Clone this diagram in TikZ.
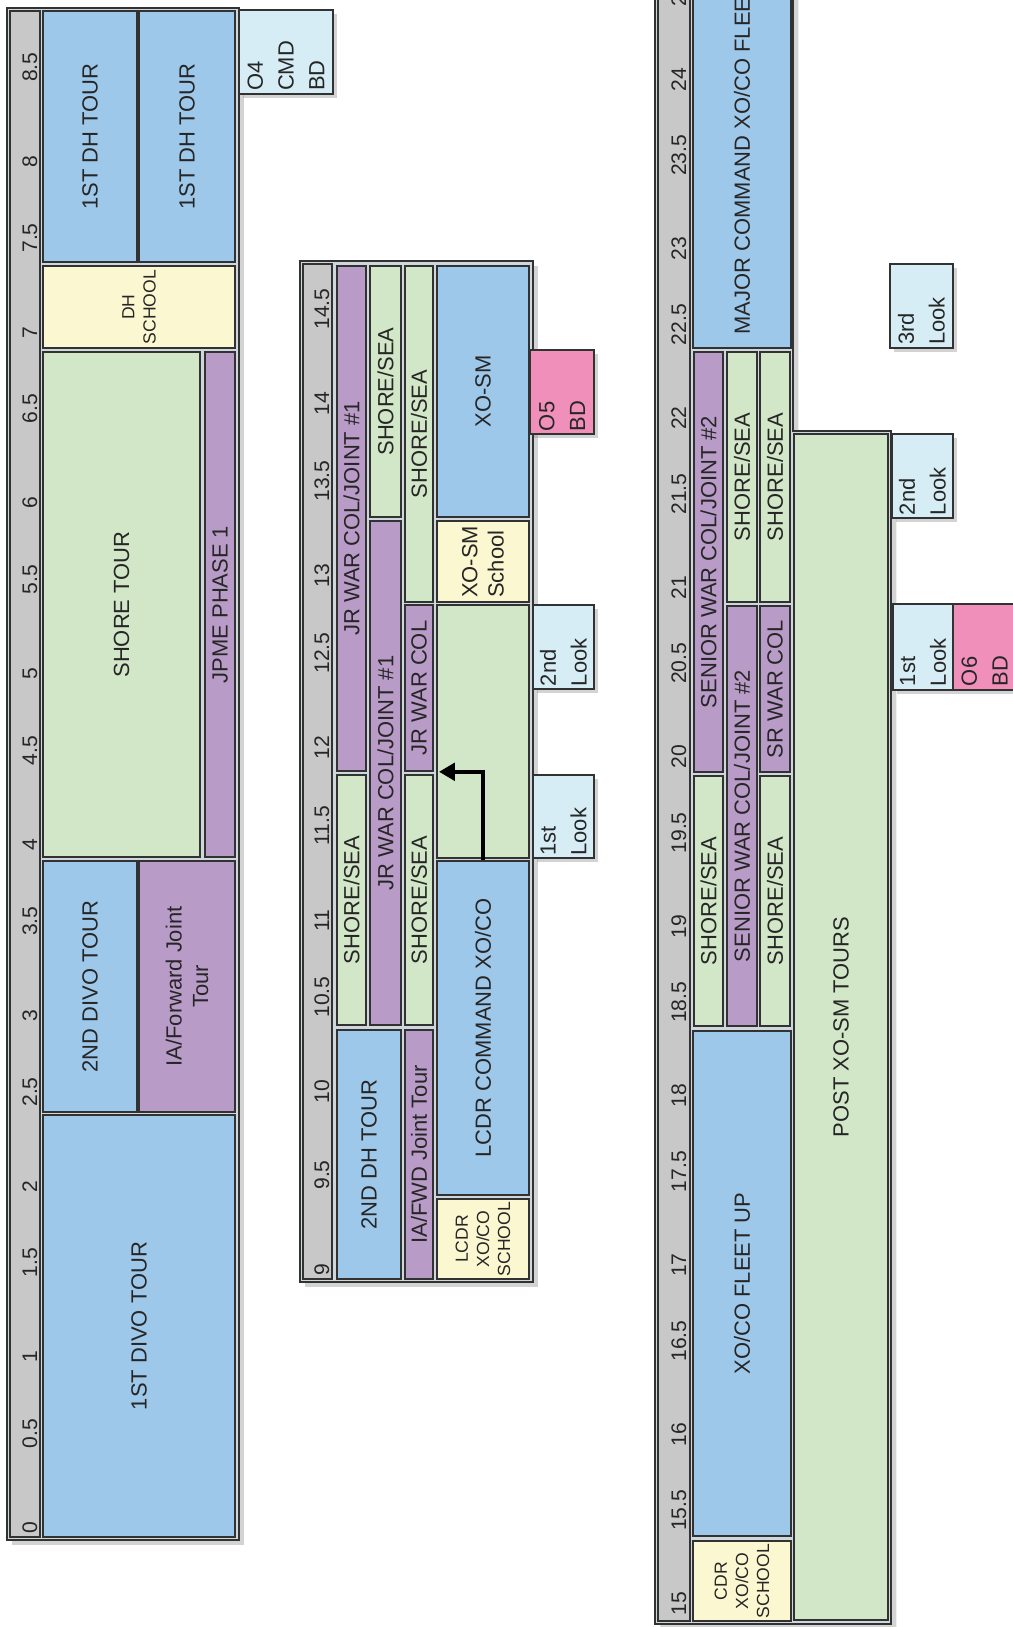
\documentclass[tikz,border=0pt]{standalone}
\usepackage{fontspec}
\setmainfont{Liberation Sans}
\definecolor{tourblue}{RGB}{158,200,234}
\definecolor{shoregreen}{RGB}{210,230,200}
\definecolor{jointpurple}{RGB}{185,155,200}
\definecolor{schoolyellow}{RGB}{251,247,208}
\definecolor{lookcyan}{RGB}{214,237,246}
\definecolor{boardpink}{RGB}{240,143,186}
\definecolor{rulergray}{RGB}{200,200,200}
\definecolor{framegray}{RGB}{205,215,220}
\definecolor{edgedark}{RGB}{50,50,50}
\usetikzlibrary{arrows.meta,shadows}

\begin{document}
\begin{tikzpicture}[x=0.02cm, y=-0.02cm,
    spanxy/.style args={#1/#2/#3/#4}{at={({(#1+#3)/2},{(#2+#4)/2})},
      minimum width={(#4-#2)*0.02cm}, minimum height={(#3-#1)*0.02cm}},
    slot/.style={draw=edgedark, line width=0.9pt, rotate=90, inner sep=1pt,
      align=center, text=black!85, font=\fontsize{12.5}{15}\selectfont},
    tour/.style={slot, fill=tourblue},
    shore/.style={slot, fill=shoregreen},
    joint/.style={slot, fill=jointpurple},
    school/.style={slot, fill=schoolyellow},
    smallschool/.style={school, font=\fontsize{10}{12}\selectfont},
    board/.style={slot, line width=1pt, align=left, text width=1.56cm,
      font=\fontsize{12.5}{17.5}\selectfont,
      drop shadow={shadow xshift=2.5pt, shadow yshift=-2.5pt, opacity=.35}},
    look/.style={board, fill=lookcyan},
    bd/.style={board, fill=boardpink},
    panel/.style={draw=edgedark, line width=1.2pt, fill=framegray,
      drop shadow={shadow xshift=3pt, shadow yshift=-3pt, opacity=.35}},
    ruler/.style={draw=edgedark, line width=0.9pt, fill=rulergray},
    ticklbl/.style={rotate=90, anchor=base west, inner sep=0pt,
      text=black!85, font=\fontsize{12}{14}\selectfont},
    flowarrow/.style={line width=2pt, -{Triangle[length=9pt,width=10pt]}, shorten >=3pt}
    ]
    \path[use as bounding box] (0,0) rectangle (1013,1627);
    \clip (0,0) rectangle (1013,1627);

    % years 0 to 8.5
    \draw[panel] (7,8) rectangle (239,1540);
    \draw[ruler] (10,11) rectangle (40,1537);
    \foreach \v [count=\i] in {0,0.5,1,1.5,2,2.5,3,3.5,4,4.5,5,5.5,6,6.5,7,7.5,8,8.5}
      \node[ticklbl] (ta\i) at (37,{1534-170.8*\v}) {\v};
    \node[tour, spanxy=43/11/137/262] (dhtoura) {1ST DH TOUR};
    \node[tour, spanxy=139/11/235/262] (dhtourb) {1ST DH TOUR};
    \node[smallschool, spanxy=43/266/235/348] (dhschool) {DH\\SCHOOL};
    \node[shore, spanxy=43/352/200/857] (shoretour) {SHORE TOUR};
    \node[joint, spanxy=205/352/235/857] (jpme) {JPME PHASE 1};
    \node[tour, spanxy=43/861/137/1112] (divotwo) {2ND DIVO TOUR};
    \node[joint, spanxy=139/861/235/1112] (iafwd) {IA/Forward Joint\\Tour};
    \node[tour, spanxy=43/1115/235/1537] (divoone) {1ST DIVO TOUR};
    \node[look, spanxy=239/10/333/94] (ofourbd) {O4\\CMD\\BD};

    % years 9 to 14.5
    \draw[panel] (300,261) rectangle (533,1282);
    \draw[ruler] (303,264) rectangle (332,1279);
    \foreach \v [count=\i] in {9,9.5,10,10.5,11,11.5,12,12.5,13,13.5,14,14.5}
      \node[ticklbl] (tb\i) at (329,{1276-172*(\v-9)}) {\v};
    \node[joint, spanxy=337/266/366/771] (jrwcjta) {JR WAR COL/JOINT \#1};
    \node[shore, spanxy=337/775/366/1025] (ssa) {SHORE/SEA};
    \node[shore, spanxy=370/266/401/517] (ssb) {SHORE/SEA};
    \node[joint, spanxy=370/521/401/1025] (jrwcjtb) {JR WAR COL/JOINT \#1};
    \node[shore, spanxy=405/266/433/602] (ssc) {SHORE/SEA};
    \node[joint, spanxy=405/605/433/771] (jrwc) {JR WAR COL};
    \node[shore, spanxy=405/775/433/1025] (ssd) {SHORE/SEA};
    \node[tour, spanxy=437/266/529/517] (xosm) {XO-SM};
    \node[school, spanxy=437/521/529/602, align=left, text width=1.45cm] (xosmschool) {XO-SM\\School};
    \node[shore, spanxy=437/605/529/858] (interim) {};
    \node[tour, spanxy=437/861/529/1195] (lcdrcmd) {LCDR COMMAND XO/CO};
    \node[smallschool, spanxy=437/1199/529/1279] (lcdrschool) {LCDR\\XO/CO\\SCHOOL};
    \node[tour, spanxy=337/1030/401/1279] (dhtourtwo) {2ND DH TOUR};
    \node[joint, spanxy=405/1030/433/1279] (iafwdtwo) {IA/FWD Joint Tour};
    \node[bd, spanxy=530/350/594/434] (ofivebd) {O5\\BD};
    \node[look, spanxy=533/605/594/689] (looktwoa) {2nd\\Look};
    \node[look, spanxy=533/775/594/858] (lookonea) {1st\\Look};
    \draw[flowarrow] (lcdrcmd.east) |- (jrwc.south west);

    % years 15 to 24.5
    \draw[panel] (655,-20) -- (793,-20) -- (793,431) -- (891,431)
      -- (891,1624) -- (655,1624) -- cycle;
    \draw[ruler] (658,-20) rectangle (690,1621);
    \foreach \v [count=\i] in {15,15.5,16,16.5,17,17.5,18,18.5,19,19.5,20,20.5,21,21.5,22,22.5,23,23.5,24,24.5}
      \node[ticklbl] (tc\i) at (686,{1616-169.4*(\v-15)}) {\v};
    \node[tour, spanxy=693/-66/791/348] (majcmd) {MAJOR COMMAND XO/CO FLEET UP};
    \node[joint, spanxy=694/352/723/772] (swcjta) {SENIOR WAR COL/JOINT \#2};
    \node[shore, spanxy=694/776/723/1026] (sse) {SHORE/SEA};
    \node[shore, spanxy=727/352/757/602] (ssf) {SHORE/SEA};
    \node[joint, spanxy=727/606/757/1026] (swcjtb) {SENIOR WAR COL/JOINT \#2};
    \node[shore, spanxy=760/352/790/602] (ssg) {SHORE/SEA};
    \node[joint, spanxy=760/606/790/772] (srwc) {SR WAR COL};
    \node[shore, spanxy=760/776/790/1026] (ssh) {SHORE/SEA};
    \node[tour, spanxy=693/1031/791/1536] (fleetup) {XO/CO FLEET UP};
    \node[smallschool, spanxy=693/1541/791/1621] (cdrschool) {CDR\\XO/CO\\SCHOOL};
    \node[shore, spanxy=794/434/888/1620] (postxosm) {POST XO-SM TOURS};
    \node[look, spanxy=890/264/953/348] (lookthree) {3rd\\Look};
    \node[look, spanxy=892/434/953/518] (looktwob) {2nd\\Look};
    \node[look, spanxy=893/604/953/690] (lookoneb) {1st\\Look};
    \node[bd, spanxy=953/604/1016/690] (osixbd) {O6\\BD};
\end{tikzpicture}
\end{document}
